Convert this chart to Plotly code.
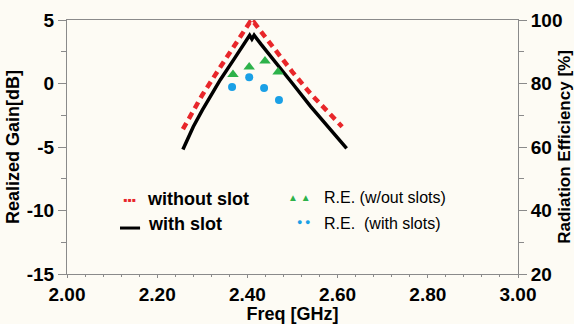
import plotly.graph_objects as go

# Realized gain (dB) versus frequency (GHz)
freq_without = [2.257, 2.28, 2.30, 2.34, 2.37, 2.39, 2.405, 2.41, 2.415, 2.43, 2.46, 2.50, 2.54, 2.58, 2.61]
gain_without = [-3.6, -2.2, -0.9, 1.3, 2.9, 4.0, 4.8, 4.6, 4.8, 4.1, 2.7, 0.9, -0.8, -2.3, -3.4]

freq_with = [2.257, 2.28, 2.30, 2.34, 2.37, 2.39, 2.405, 2.41, 2.415, 2.43, 2.46, 2.50, 2.54, 2.58, 2.62]
gain_with = [-5.2, -3.4, -2.1, 0.3, 1.9, 3.0, 3.8, 3.5, 3.8, 3.1, 1.8, 0.0, -1.8, -3.4, -5.1]

# Radiation efficiency (%) at sampled frequencies
re_freq_without = [2.368, 2.404, 2.439, 2.468]
re_without = [82.8, 85.2, 87.1, 83.6]
re_freq_with = [2.366, 2.404, 2.437, 2.470]
re_with = [78.9, 82.0, 78.6, 74.8]

x_ticks = [2.0, 2.2, 2.4, 2.6, 2.8, 3.0]
x_tick_text = ["2.00", "2.20", "2.40", "2.60", "2.80", "3.00"]
gain_ticks = [-15, -10, -5, 0, 5]
gain_tick_text = ["-15", "-10", "-5", "0", "5"]
eff_ticks = [20, 40, 60, 80, 100]

FONT = "Liberation Sans, Arial, sans-serif"
AXIS_GREY = "#8a8a8a"
BG = "#fdfbf4"
RED = "#e8262a"
GREEN = "#2db24a"
BLUE = "#1aa0e6"

fig = go.Figure()
fig.add_trace(go.Scatter(x=freq_without, y=gain_without, mode="lines", name="without slot",
                         line=dict(color=RED, width=4.5, dash="7px,5px")))
fig.add_trace(go.Scatter(x=freq_with, y=gain_with, mode="lines", name="with slot",
                         line=dict(color="black", width=3.5)))
fig.add_trace(go.Scatter(x=re_freq_without, y=re_without, mode="markers", yaxis="y2",
                         name="R.E. (w/out slots)",
                         marker=dict(symbol="triangle-up", color=GREEN, size=10)))
fig.add_trace(go.Scatter(x=re_freq_with, y=re_with, mode="markers", yaxis="y2",
                         name="R.E.  (with slots)",
                         marker=dict(symbol="circle", color=BLUE, size=8)))

tick_font = dict(size=19, family=FONT, weight="bold")
fig.update_layout(
    width=574, height=324,
    margin=dict(l=67, r=56, t=20, b=50, autoexpand=False),
    paper_bgcolor=BG, plot_bgcolor=BG,
    showlegend=False,
    font=dict(family=FONT, color="black"),
    xaxis=dict(range=[2.0, 3.0], tickvals=x_ticks, ticktext=x_tick_text, automargin=False,
               showgrid=False, zeroline=False, showline=True, linecolor=AXIS_GREY,
               linewidth=1, mirror=True, ticks="outside", ticklen=3, tickcolor=AXIS_GREY,
               minor=dict(dtick=0.04, ticks="outside", ticklen=2, tickcolor=AXIS_GREY),
               tickfont=tick_font,
               title=dict(text="<b>Freq [GHz]</b>", font=dict(size=18), standoff=0)),
    yaxis=dict(range=[-15, 5], tickvals=gain_ticks, ticktext=gain_tick_text, automargin=False,
               showgrid=False, zeroline=False,
               showline=True, linecolor=AXIS_GREY, linewidth=1,
               ticks="outside", ticklen=8, tickcolor=AXIS_GREY,
               minor=dict(dtick=2.5, ticks="outside", ticklen=5, tickcolor=AXIS_GREY),
               tickfont=tick_font,
               title=dict(text="<b>Realized Gain[dB]</b>", font=dict(size=18), standoff=2)),
    yaxis2=dict(range=[20, 100], tickvals=eff_ticks, overlaying="y", side="right",
                automargin=False,
                showgrid=False, zeroline=False, showline=True, linecolor=AXIS_GREY,
                linewidth=1, ticks="outside", ticklen=8, tickcolor=AXIS_GREY,
                minor=dict(dtick=10, ticks="outside", ticklen=5, tickcolor=AXIS_GREY),
                tickfont=tick_font,
                title=dict(text="<b>Radiation Efficiency [%]</b>", font=dict(size=17),
                           standoff=2)),
)

# Hand-placed legend block inside the plot area
fig.add_annotation(xref="paper", yref="paper", x=0.157, y=0.291,
                   text=f"<span style='color:{RED}'>▪▪▪</span>", showarrow=False,
                   xanchor="right", yanchor="middle", font=dict(size=12, family=FONT))
fig.add_annotation(xref="paper", yref="paper", x=0.173, y=0.295, text="<b>without slot</b>",
                   showarrow=False, xanchor="left", yanchor="middle",
                   font=dict(size=18, family=FONT, color="black"))
fig.add_shape(type="line", xref="paper", yref="paper", x0=0.1175, x1=0.162, y0=0.181, y1=0.181,
              line=dict(color="black", width=3))
fig.add_annotation(xref="paper", yref="paper", x=0.175, y=0.197, text="<b>with slot</b>",
                   showarrow=False, xanchor="left", yanchor="middle",
                   font=dict(size=18, family=FONT, color="black"))

fig.add_annotation(xref="paper", yref="paper", x=0.545, y=0.303,
                   text=f"<span style='color:{GREEN}'>▲ ▲</span>", showarrow=False,
                   xanchor="right", yanchor="middle", font=dict(size=10, family=FONT))
fig.add_annotation(xref="paper", yref="paper", x=0.565, y=0.303, text="R.E. (w/out slots)",
                   showarrow=False, xanchor="left", yanchor="middle",
                   font=dict(size=16, family=FONT, color="black"))
fig.add_annotation(xref="paper", yref="paper", x=0.543, y=0.205,
                   text=f"<span style='color:{BLUE}'>● ●</span>", showarrow=False,
                   xanchor="right", yanchor="middle", font=dict(size=9, family=FONT))
fig.add_annotation(xref="paper", yref="paper", x=0.565, y=0.20, text="R.E.  (with slots)",
                   showarrow=False, xanchor="left", yanchor="middle",
                   font=dict(size=16, family=FONT, color="black"))

fig.write_html("out.html")
